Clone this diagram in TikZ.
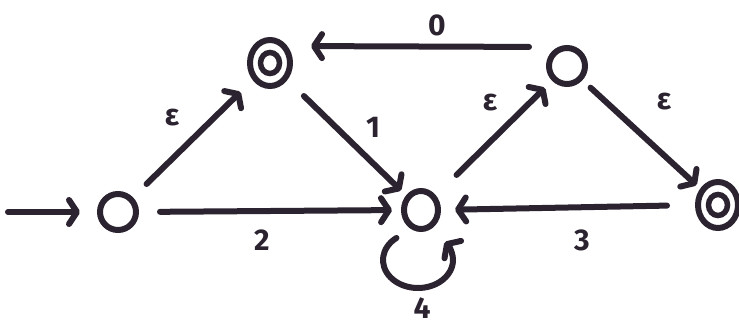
\documentclass[tikz,border=0pt]{standalone}
\usepackage{fontspec}
\setmainfont{Fira Sans}
\usetikzlibrary{arrows.meta,shapes.geometric}
\definecolor{ink}{HTML}{2B2330}
\tikzset{
  state/.style={circle, draw=ink, line width=6pt, minimum size=36pt, inner sep=0pt, outer sep=0pt},
  outerring/.style={ellipse, draw=ink, line width=6pt, minimum width=40pt, minimum height=46pt, inner sep=0pt, outer sep=0pt},
  innerring/.style={ellipse, draw=ink, line width=5.5pt, minimum width=19pt, minimum height=21pt, inner sep=0pt, outer sep=0pt},
  edge/.style={draw=ink, line width=6pt, line cap=round, -{Straight Barb[round, length=8pt, width=24pt]}},
  lbl/.style={text=ink, font=\fontsize{30}{32}\selectfont\bfseries, inner sep=0pt}
}
\begin{document}
\begin{tikzpicture}[x=1pt,y=1pt]
\useasboundingbox (0,0) rectangle (739,-327);
\fill[white] (0,0) rectangle (739,-327);
\node[state] (A) at (118,-212) {};
\node[outerring] (B) at (270,-63) {};
\node[innerring] (Bi) at (B.center) {};
\node[ellipse, draw=ink, line width=6pt, inner sep=0pt, outer sep=0pt, minimum width=34pt, minimum height=38pt] (C) at (421,-210) {};
\node[state] (D) at (567,-66) {};
\node[outerring] (E) at (718,-205) {};
\node[innerring] (Ei) at (E.center) {};
\coordinate (S) at (8,-212);
% edges
\draw[edge, shorten >=20pt] (S) -- (A.west);
\draw[edge, shorten <=22pt, shorten >=20pt] (A) -- (B);
\draw[edge, shorten <=24pt, shorten >=12pt] (A.east) -- (C.west);
\draw[edge, shorten <=26pt, shorten >=10pt] (B) -- (C);
\draw[edge, shorten <=32pt, shorten >=13pt] (C) -- (D);
\draw[edge, shorten <=20pt, shorten >=21pt] ([yshift=19pt]D.west) -- ([yshift=17pt]B.east);
\draw[edge, shorten <=14pt, shorten >=8pt] (D) -- (E);
\draw[edge, shorten <=31pt, shorten >=17pt] (E.west) -- (C.east);
\draw[edge] ([shift={(-3,-50)}]C.center) ++(128:35 and 28) arc[start angle=128, end angle=400, x radius=35, y radius=28];
% labels
\node[lbl] (l1) at (172,-118) {ε};
\node[lbl] (l2) at (262,-240) {2};
\node[lbl] (l3) at (373,-127) {1};
\node[lbl] (l4) at (490,-103) {ε};
\node[lbl] (l5) at (437,-25) {0};
\node[lbl] (l6) at (664,-102) {ε};
\node[lbl] (l7) at (582,-240) {3};
\node[lbl] (l8) at (422,-308) {4};
\end{tikzpicture}
\end{document}
